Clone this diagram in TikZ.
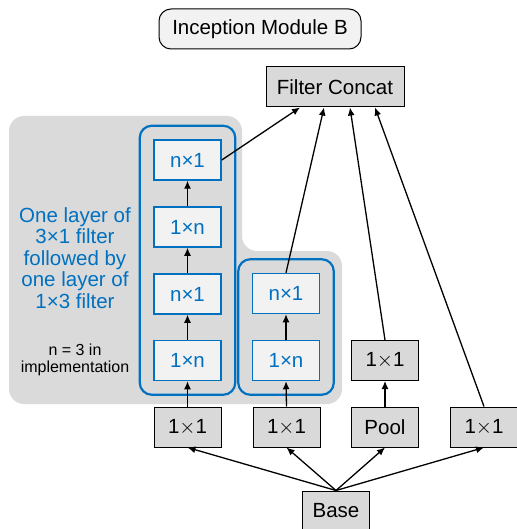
\documentclass[tikz,border=0pt]{standalone}
\usepackage{fontspec}
\setmainfont{Liberation Sans}
\usetikzlibrary{arrows.meta,fit,calc}
\definecolor{incblue}{RGB}{0,112,192}
\definecolor{boxgray}{RGB}{217,217,217}
\definecolor{panelgray}{RGB}{218,218,218}
\definecolor{palegray}{RGB}{242,242,242}
\begin{document}
\begin{tikzpicture}[x=1pt,y=-1pt,
  every node/.style={font=\fontsize{20.5}{24}\selectfont},
  graybox/.style={draw=black, line width=1pt, fill=boxgray, minimum width=67pt, minimum height=40pt, inner sep=0pt},
  convbox/.style={draw=incblue, line width=1.5pt, fill=palegray, text=incblue, minimum width=67pt, minimum height=40pt, inner sep=0pt},
  colframe/.style={draw=incblue, line width=2.2pt, rounded corners=12pt, inner sep=13.5pt},
  conn/.style={line width=1.3pt, -{Latex[length=8pt,width=7pt]}}]
\useasboundingbox (0,0) rectangle (516,529);

% shaded panel behind the factorised branches
\fill[panelgray, rounded corners=15pt]
  (9,116) -- (242,116) -- (242,251) -- (342,251) -- (342,404) -- (9,404) -- cycle;

% title
\node[draw=black, line width=1pt, fill=palegray, rounded corners=12pt,
      minimum width=202pt, minimum height=40pt, inner sep=0pt] (title) at (260,29) {Inception Module B};

% output
\node[graybox, minimum width=138pt] (fc) at (335,87) {Filter Concat};

% left branch: stacked 1xn / nx1
\node[convbox] (a4) at (187.5,160) {n×1};
\node[convbox] (a3) at (187.5,227) {1×n};
\node[convbox] (a2) at (187.5,294) {n×1};
\node[convbox] (a1) at (187.5,360.5) {1×n};

% middle branch
\node[convbox] (b2) at (286,293.5) {n×1};
\node[convbox] (b1) at (286,360.5) {1×n};

% blue frames around each factorised stack
\node[colframe, fit=(a4)(a1)] (lcol) {};
\node[colframe, fit=(b2)(b1)] (rcol) {};

% pool projection
\node[graybox] (p1) at (385,360.5) {1$\times$1};

% bottom row
\node[graybox] (c1) at (187.5,427) {1$\times$1};
\node[graybox] (c2) at (286.5,427) {1$\times$1};
\node[graybox] (c3) at (385,427) {Pool};
\node[graybox] (c4) at (484,427) {1$\times$1};

% input
\node[graybox] (base) at (336,511) {Base};

% annotations
\node[text=incblue, align=center, font=\fontsize{20.5}{21.5}\selectfont] (note) at (75,258)
  {One layer of\\3×1 filter\\followed by\\one layer of\\1×3 filter};
\node[align=center, font=\fontsize{16}{17}\selectfont] (impl) at (75,360) {n = 3 in\\implementation};

% connectors from the base
\draw[conn] (base.north) -- (c1.south);
\draw[conn] (base.north) -- (c2.south);
\draw[conn] (base.north) -- (c3.south);
\draw[conn] (base.north) -- (c4.south);

% inside the stacks
\draw[conn] (c1.north) -- (a1.south);
\draw[conn] (a1.north) -- (a2.south);
\draw[conn] (a2.north) -- (a3.south);
\draw[conn] (a3.north) -- (a4.south);
\draw[conn] (c2.north) -- (b1.south);
\draw[conn] (b1.north) -- (b2.south);
\draw[conn] (c3.north) -- (p1.south);

% into the concatenation
\draw[conn] (a4.east) -- ([xshift=-35pt]fc.south);
\draw[conn] (b2.north) -- ([xshift=-11pt]fc.south);
\draw[conn] (p1.north) -- ([xshift=15pt]fc.south);
\draw[conn] (c4.north) -- ([xshift=40pt]fc.south);
\end{tikzpicture}
\end{document}
